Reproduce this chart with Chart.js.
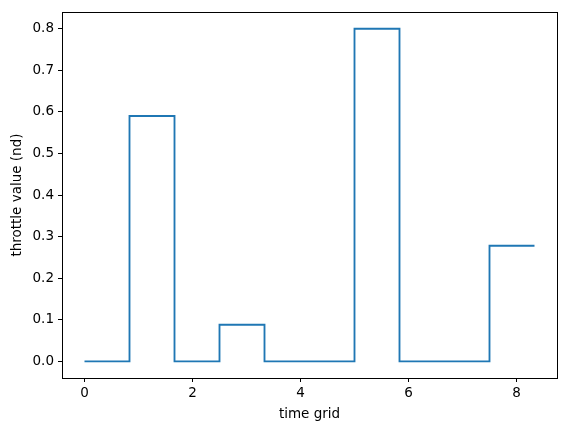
<!DOCTYPE html>
<html>
<head>
<meta charset="utf-8">
<script src="https://cdn.jsdelivr.net/npm/chart.js@4/dist/chart.umd.min.js"></script>
<style>
  html, body { margin: 0; padding: 0; background: #fff; }
  #wrap { width: 567px; height: 432px; }
</style>
</head>
<body>
<div id="wrap"><canvas id="throttleChart" width="567" height="432"></canvas></div>
<script>
  // time grid points (dt = 5/6) and throttle value held from each point (step post)
  const timeGrid = [0, 0.8333, 1.6667, 2.5, 3.3333, 4.1667, 5, 5.8333, 6.6667, 7.5, 8.3333];
  const throttle = [0, 0.59, 0, 0.088, 0, 0, 0.8, 0, 0, 0.278, 0.278];
  const xTicks = [0, 2, 4, 6, 8];
  const yTicks = [0.0, 0.1, 0.2, 0.3, 0.4, 0.5, 0.6, 0.7, 0.8];

  const points = timeGrid.map((t, i) => ({ x: t, y: throttle[i] }));
  const tickFont = { family: 'DejaVu Sans', size: 13.5 };

  // draw the full axes box like matplotlib
  const frame = {
    id: 'frame',
    afterDraw(chart) {
      const { ctx, chartArea: a } = chart;
      ctx.save();
      ctx.strokeStyle = '#000';
      ctx.lineWidth = 1;
      ctx.strokeRect(Math.round(a.left) + 0.5, Math.round(a.top) + 0.5,
        Math.round(a.right - a.left), Math.round(a.bottom - a.top));
      ctx.restore();
    }
  };

  function drawChart() {
    const ctx = document.getElementById('throttleChart').getContext('2d');
    new Chart(ctx, {
      type: 'line',
      data: {
        datasets: [{
          data: points,
          stepped: 'before',
          borderColor: '#1f77b4',
          borderWidth: 1.85,
          pointRadius: 0,
          fill: false
        }]
      },
      options: {
        responsive: false,
        animation: false,
        layout: { padding: { left: 0, top: 9, right: 10, bottom: 0 } },
        plugins: { legend: { display: false }, tooltip: { enabled: false } },
        scales: {
          x: {
            type: 'linear',
            min: -0.4167,
            max: 8.75,
            afterBuildTicks: s => { s.ticks = xTicks.map(v => ({ value: v })); },
            afterFit: s => { s.height = 54; },
            ticks: { font: tickFont, color: '#000', padding: 3, maxRotation: 0,
              callback: v => String(v) },
            grid: { drawOnChartArea: false, drawTicks: true, tickLength: 4, color: '#000' },
            border: { display: true, color: '#000', width: 1 },
            title: { display: true, text: 'time grid', font: tickFont, color: '#000',
              padding: { top: 0, bottom: 9 } }
          },
          y: {
            type: 'linear',
            min: -0.04,
            max: 0.84,
            afterBuildTicks: s => { s.ticks = yTicks.map(v => ({ value: v })); },
            afterFit: s => { s.width = 62; },
            ticks: { font: tickFont, color: '#000', padding: 4,
              callback: v => v.toFixed(1) },
            grid: { drawOnChartArea: false, drawTicks: true, tickLength: 4, color: '#000' },
            border: { display: true, color: '#000', width: 1 },
            title: { display: true, text: 'throttle value (nd)', font: tickFont, color: '#000',
              padding: { top: 9, bottom: 0 } }
          }
        }
      },
      plugins: [frame]
    });
  }

  window.onload = drawChart;
</script>
</body>
</html>
